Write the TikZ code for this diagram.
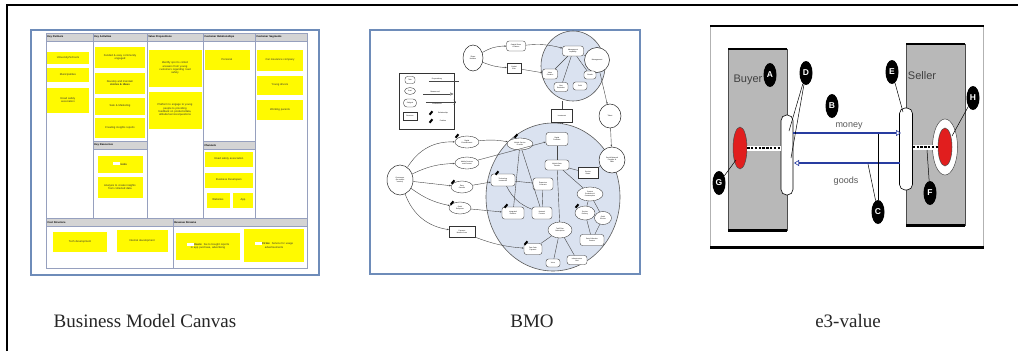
\documentclass[tikz,border=0pt]{standalone}
\usepackage{fontspec}
\setmainfont{Liberation Serif}
\setsansfont{Liberation Sans}
\usetikzlibrary{shapes.geometric,arrows.meta,calc}

\definecolor{panelblue}{RGB}{110,140,185}
\definecolor{gridline}{RGB}{150,160,190}
\definecolor{hdrgray}{RGB}{212,212,212}
\definecolor{sticky}{RGB}{255,250,0}
\definecolor{bubble}{RGB}{218,226,240}
\definecolor{actorgray}{RGB}{184,184,184}
\definecolor{flowblue}{RGB}{40,60,160}
\definecolor{stimred}{RGB}{225,30,30}

\tikzset{
  panelbox/.style={draw=panelblue, line width=1.5pt, fill=white, inner sep=0pt},
  canvasbox/.style={draw=gridline, line width=0.6pt, inner sep=0pt},
  hdr/.style={draw=gridline, line width=0.5pt, fill=hdrgray, anchor=north west,
    inner xsep=1pt, inner ysep=0pt, minimum height=8pt, align=left,
    font=\sffamily\bfseries\fontsize{2.6}{2.9}\selectfont},
  note/.style={fill=sticky, inner sep=1pt, align=center,
    font=\sffamily\fontsize{2.7}{3.3}\selectfont, text=black!80},
  gridrule/.style={draw=gridline, line width=0.5pt},
  caption/.style={font=\fontsize{19}{22}\selectfont, text=black!85},
  % goal-model elements
  bigcirc/.style={ellipse, draw=gray!70!black, line width=0.6pt, fill=bubble, inner sep=0pt},
  tasknode/.style={draw=black!80, line width=0.35pt, fill=white, rounded corners=2.5pt,
    inner sep=0.3pt, align=center, font=\sffamily\fontsize{1.7}{2}\selectfont},
  softnode/.style={ellipse, draw=black!80, line width=0.35pt, fill=white,
    inner sep=0.2pt, align=center, font=\sffamily\fontsize{1.7}{2}\selectfont},
  resnode/.style={draw=black!80, line width=0.35pt, fill=white,
    inner sep=0.3pt, align=center, font=\sffamily\fontsize{1.7}{2}\selectfont},
  actornode/.style={ellipse, draw=black!85, line width=0.5pt, fill=white,
    inner sep=0.2pt, align=center, font=\sffamily\fontsize{1.8}{2.1}\selectfont},
  pin/.style={fill=black, minimum width=2pt, minimum height=4.5pt, inner sep=0pt, rotate=-40},
  link/.style={draw=gray!55!black, line width=0.4pt},
  linkarr/.style={link, -{Stealth[length=2pt,width=1.6pt]}},
  legtext/.style={font=\sffamily\fontsize{1.8}{2}\selectfont, inner sep=0pt},
  % value-model elements
  actorbox/.style={fill=actorgray, draw=gray!60!black, line width=0.4pt, inner sep=0pt},
  iface/.style={draw=black, line width=0.6pt, fill=white, rounded corners=5.5pt, inner sep=0pt},
  stim/.style={ellipse, draw=black!70, line width=0.5pt, fill=stimred, inner sep=0pt},
  ring/.style={ellipse, draw=black!70, line width=0.5pt, fill=white, inner sep=0pt},
  seqbg/.style={draw=white, line width=5pt},
  seqfg/.style={draw=black, line width=2.2pt, dash pattern=on 2.4pt off 1.4pt},
  valline/.style={draw=flowblue, line width=2pt},
  e3lab/.style={font=\sffamily\fontsize{11}{12}\selectfont, text=black!75, inner sep=0pt},
  flowlab/.style={font=\sffamily\fontsize{9}{10}\selectfont, text=black!65, inner sep=0pt},
  lettertag/.style={ellipse, fill=black, text=white, inner sep=0pt,
    minimum width=13pt, minimum height=24pt, font=\sffamily\bfseries\fontsize{8.5}{9}\selectfont},
  tagline/.style={draw=black, line width=0.5pt},
}

\begin{document}
\begin{tikzpicture}[x=1pt, y=-1pt]
\useasboundingbox (0,0) rectangle (1018,351);
\fill[white] (0,0) rectangle (1018,351);

% frame of the figure
\draw[line width=1.4pt] (7,351) -- (7,5) -- (1018,5);

%==================== Business Model Canvas ====================
\node[panelbox, anchor=north west, minimum width=288pt, minimum height=245pt] (bmcpanel) at (30,29) {};
\node[canvasbox, anchor=north west, minimum width=261pt, minimum height=235pt] (canvas) at (46,33) {};

\node[hdr, text width=45pt] (hKP) at (46,33) {Key Partners};
\node[hdr, text width=52pt] (hKA) at (93,33) {Key Activities};
\node[hdr, text width=54pt] (hVP) at (147,33) {Value Propositions};
\node[hdr, text width=50pt] (hCR) at (203,33) {Customer Relationships};
\node[hdr, text width=50pt] (hCS) at (255,33) {Customer Segments};

\draw[gridrule] (hKP.south east) -- (hKP.south east |- 0,218);
\draw[gridrule] (hKA.south east) -- (hKA.south east |- 0,218);
\draw[gridrule] (hVP.south east) -- (hVP.south east |- 0,218);
\draw[gridrule] (hCR.south east) -- (hCR.south east |- 0,218);

\node[hdr, text width=52pt] (hKR) at (93,141) {Key Resources};
\node[hdr, text width=50pt] (hCH) at (203,141) {Channels};
\node[hdr, text width=125pt] (hCO) at (46,218) {Cost Structure};
\node[hdr, text width=132pt] (hRS) at (173,218) {Revenue Streams};
\draw[gridrule] (hRS.south west) -- (hRS.south west |- canvas.south);

% key partners
\node[note, text width=40pt, minimum height=12pt] (kp1) at (68,58) {University/Schools};
\node[note, text width=40pt, minimum height=14pt] (kp2) at (68,75) {Municipalities};
\node[note, text width=40pt, minimum height=25pt] (kp3) at (68,100) {Road safety\\association};
% key activities
\node[note, text width=48pt, minimum height=21pt] (ka1) at (120,57) {Funded \& easy community\\engaged};
\node[note, text width=48pt, minimum height=21pt] (ka2) at (120,83) {Develop and maintain\\\textbf{stories \& ideas}};
\node[note, text width=48pt, minimum height=17pt] (ka3) at (120,106) {Sale \& Marketing};
\node[note, text width=48pt, minimum height=20pt] (ka4) at (120,128) {Creating insights reports};
% key resources
\node[note, text width=43pt, minimum height=17pt] (kr1) at (120,164) {{\color{white}\rule{7pt}{3pt}}\,\textbf{tools}};
\node[note, text width=43pt, minimum height=21pt] (kr2) at (120,187) {Analysis to create insights\\from collected data};
% value propositions
\node[note, text width=51pt, minimum height=37pt] (vp1) at (175,68) {Identify spot to collect\\answers from young\\customers regarding road\\safety};
\node[note, text width=51pt, minimum height=37pt] (vp2) at (175,110) {Platform to engage to young\\people to providing\\feedback on products/data,\\attitude/services/questions};
% customer relationships
\node[note, text width=43pt, minimum height=20pt] (cr1) at (227,60) {Personal};
% channels
\node[note, text width=46pt, minimum height=15pt] (ch1) at (229,159) {Road safety association};
\node[note, text width=46pt, minimum height=15pt] (ch2) at (229,180) {Business Developers};
\node[note, text width=21pt, minimum height=15pt] (ch3) at (218,200) {Websites};
\node[note, text width=18pt, minimum height=15pt] (ch4) at (243,200) {App};
% customer segments
\node[note, text width=44pt, minimum height=21pt] (cs1) at (280,60) {Car insurance company};
\node[note, text width=44pt, minimum height=19pt] (cs2) at (280,85) {Young drivers};
\node[note, text width=44pt, minimum height=20pt] (cs3) at (280,110) {Working parents};
% cost structure
\node[note, text width=52pt, minimum height=20pt] (co1) at (80,242) {Tech development};
\node[note, text width=49pt, minimum height=22pt] (co2) at (142,241) {Internal development};
% revenue streams
\node[note, text width=62pt, minimum height=27pt] (rs1) at (208,246) {{\color{white}\rule{7pt}{3pt}}\,\textbf{Users}: fee to bought reports\\in app purchase, advertising};
\node[note, text width=58pt, minimum height=33pt] (rs2) at (274,245) {{\color{white}\rule{7pt}{3pt}}\,\textbf{Firms}: Service for usage\\advertisements};

\node[caption] (capbmc) at (145,321) {Business Model Canvas};

%==================== BMO goal model ====================
\node[panelbox, anchor=north west, minimum width=270pt, minimum height=244pt] (bmopanel) at (369,29) {};

\node[bigcirc, minimum width=64pt, minimum height=70pt] (upc) at (573,66) {};
\node[bigcirc, minimum width=134pt, minimum height=148pt] (lowc) at (553,197) {};

% legend
\node[resnode, anchor=north west, minimum width=55pt, minimum height=56pt] (legend) at (399,73) {};
\node[tasknode, minimum width=10pt, minimum height=7pt] (lg1) at (410,80) {Task};
\node[softnode, minimum width=11pt, minimum height=7pt] (lg2) at (410,91) {Goal};
\node[tasknode, rounded corners=3.5pt, minimum width=13pt, minimum height=8pt] (lg3) at (410,103) {Softgoal};
\node[resnode, minimum width=14pt, minimum height=8pt] (lg4) at (410,116) {Resource};
\node[legtext] (lt1) at (437,79) {Dependency};
\node[legtext] (lt2) at (435,92) {Means-end};
\node[legtext] (lt3) at (437,104) {Contribution};
\node[legtext] (lt4) at (443,113) {Relationship};
\node[legtext] (lt5) at (443,121) {Position};
\draw[link] (lt1.south west) ++(-3,1.5) coordinate (ld1) -- ++(30,0) coordinate (ld2);
\draw[link, -{Triangle[open,length=3pt,width=3pt]}] (lt2.west) ++(-7,2) coordinate (lm1) -- ++(30,0) coordinate (lm2);
\draw[link, ->] (lt3.north west) ++(-6,-1) coordinate (lc1) -- ++(30,0) coordinate (lc2);
\node[pin] (lp1) at (431,113) {};
\node[pin] (lp2) at (431,121) {};

% upper cluster
\node[actornode, minimum width=20pt, minimum height=26pt] (mass) at (473,58) {Share\\Holders};
\node[tasknode, minimum width=19pt, minimum height=10pt] (t1) at (516,46) {Capital Share\\\& Return};
\node[resnode, minimum width=14pt, minimum height=10pt] (t2) at (514,68) {Capital\\Gain};
\node[actornode, minimum width=25pt, minimum height=25pt] (mgmt) at (597,60) {Management};
\node[tasknode, minimum width=21pt, minimum height=10pt] (u1) at (573,51) {Management\\capability};
\node[tasknode, minimum width=15pt, minimum height=10pt] (u2) at (550,74) {Value\\Creation};
\node[tasknode, minimum width=14pt, minimum height=9pt] (u3) at (561,87) {Cost\\Reduction};
\node[tasknode, minimum width=14pt, minimum height=8pt] (u4) at (580,86) {Profit};
\node[tasknode, minimum width=12pt, minimum height=8pt] (u5) at (590,75) {Growth};
\node[resnode, minimum width=21pt, minimum height=13pt] (inv) at (562,116) {Investment};
\node[actornode, minimum width=22pt, minimum height=24pt] (talent) at (610,116) {Talent};
\node[actornode, minimum width=26pt, minimum height=26pt] (social) at (612,160) {Social Network\\Provider \&\\Offer};

% customers and their services
\node[actornode, minimum width=26pt, minimum height=30pt] (cust) at (400,180) {Customers\\(for mobile\\service)};
\node[softnode, minimum width=24pt, minimum height=12pt] (l1) at (467,142) {Digital\\Entertainment};
\node[softnode, minimum width=24pt, minimum height=12pt] (l2) at (467,163) {Mobile Services\\and Content};
\node[softnode, minimum width=22pt, minimum height=12pt] (l3) at (462,187) {Easy\\Contract};
\node[softnode, minimum width=22pt, minimum height=12pt] (l4) at (460,208) {Quick\\Response};
\node[resnode, minimum width=26pt, minimum height=11pt] (l5) at (462,232) {Payment\\Means of use};
\node[pin] (p1) at (457,136) {};
\node[pin] (p3) at (453,182) {};
\node[pin] (p4) at (452,203) {};

% inside the provider
\node[softnode, minimum width=26pt, minimum height=12pt] (i1) at (520,144) {Mobile Service\\Provider};
\node[tasknode, minimum width=22pt, minimum height=13pt] (i2) at (557,139) {Digital\\Providers};
\node[tasknode, minimum width=24pt, minimum height=10pt] (i3) at (557,165) {Mobile Data\\Transfer};
\node[tasknode, minimum width=24pt, minimum height=12pt] (i4) at (503,180) {Technology\\Investment};
\node[tasknode, minimum width=20pt, minimum height=12pt] (i5) at (543,184) {Expansion\\Contracts};
\node[resnode, minimum width=20pt, minimum height=11pt] (i6) at (588,173) {Service\\Owner};
\node[softnode, minimum width=26pt, minimum height=14pt] (i7) at (590,194) {Content\\Production \&\\Consumption};
\node[tasknode, minimum width=22pt, minimum height=12pt] (i8) at (513,213) {Integrated\\Platform};
\node[tasknode, minimum width=20pt, minimum height=12pt] (i9) at (542,213) {Network\\Process};
\node[softnode, minimum width=24pt, minimum height=16pt] (i10) at (560,230) {Tariff Plan\\Subscription};
\node[softnode, minimum width=20pt, minimum height=14pt] (i11) at (585,213) {Service\\Delivery};
\node[softnode, minimum width=17pt, minimum height=13pt] (i12) at (603,218) {Quick\\Service};
\node[tasknode, minimum width=24pt, minimum height=11pt] (i13) at (592,240) {Data Collection\\Centers};
\node[tasknode, minimum width=18pt, minimum height=11pt] (i14) at (533,249) {Fast Cash\\Payment};
\node[tasknode, minimum width=14pt, minimum height=8pt] (i15) at (553,263) {Voice};
\node[tasknode, minimum width=20pt, minimum height=9pt] (i16) at (577,260) {Infrastructure\\Cost};
\node[pin] (q1) at (516,136) {};
\node[pin] (q4) at (497,173) {};
\node[pin] (q8) at (506,206) {};
\node[pin] (q11) at (577,206) {};
\node[pin] (q14) at (526,243) {};

% links, upper part
\draw[linkarr] (mass) to[bend left=15] (t1);
\draw[linkarr] (t1) to[bend left=10] (u1);
\draw[linkarr] (mass) to[bend right=10] (t2);
\draw[linkarr] (t2) -- (u2);
\draw[link] (u1) -- (u2);
\draw[link] (u1) -- (u3);
\draw[link] (u1) -- (u5);
\draw[link] (mgmt) -- (u1);
\draw[linkarr] (mgmt) -- (talent);
\draw[linkarr] (talent) -- (social);
\draw[link] (inv) -- (inv |- upc.south);
\draw[link] (inv) -- (inv |- lowc.north);
\draw[link] (social) -- (i6);
% links, customers
\draw[linkarr] (cust) to[bend left=30] (l1);
\draw[linkarr] (cust) to[bend left=12] (l2);
\draw[linkarr] (cust) -- (l3);
\draw[linkarr] (cust) to[bend right=12] (l4);
\draw[linkarr] (cust) to[bend right=30] (l5);
\draw[linkarr] (l1) to[bend left=8] (i1);
\draw[linkarr] (l2) -- (i2);
\draw[linkarr] (l3) -- (i4);
\draw[linkarr] (l4) -- (i8);
\draw[linkarr] (l5) to[bend right=8] (i14);
% links, inside the provider
\draw[link] (i1) -- (i8);
\draw[link] (i1) -- (i9);
\draw[link] (i2) -- (i3);
\draw[link] (i3) -- (i10);
\draw[link] (i3) -- (i7);
\draw[link] (i4) -- (i5);
\draw[link] (i4) to[bend right=20] (i9);
\draw[link] (i5) -- (i9);
\draw[link] (i3) -- (i6);
\draw[link] (i7) -- (i11);
\draw[link] (i7) -- (i12);
\draw[link] (i11) -- (i13);
\draw[link] (i12) -- (i13);
\draw[link] (i10) -- (i14);
\draw[link] (i10) -- (i15);
\draw[link] (i10) -- (i16);

\node[caption] (capbmo) at (532,321) {BMO};

%==================== e3-value model ====================
\node[draw=gray!60, line width=0.5pt, fill=white, inner sep=0pt, anchor=north west,
      minimum width=273pt, minimum height=221pt] (e3frame) at (710,26) {};
\draw[line width=2.6pt] (e3frame.north west) -- (e3frame.north east);
\draw[line width=2.6pt] (e3frame.south west) -- (e3frame.south east);

\node[actorbox, anchor=north west, minimum width=59pt, minimum height=181pt] (buyer) at (728,49) {};
\draw[line width=2.4pt] (buyer.north west) -- (buyer.north east);
\draw[line width=2.4pt] (buyer.south west) -- (buyer.south east);
\node[actorbox, anchor=north west, minimum width=59pt, minimum height=181pt] (seller) at (906,44) {};
\draw[line width=2.4pt] (seller.north west) -- (seller.north east);
\draw[line width=2.4pt] (seller.south west) -- (seller.south east);

\node[e3lab] (buyerlab) at (748,80) {Buyer};
\node[e3lab] (sellerlab) at (922,76) {Seller};

\node[iface, minimum width=12pt, minimum height=80pt] (bif) at (787,155) {};
\node[iface, minimum width=13pt, minimum height=82pt] (sif) at (906,149) {};

\node[stim, minimum width=14pt, minimum height=42pt] (bred) at (740,148) {};
\node[ring, minimum width=25pt, minimum height=56pt] (sring) at (945,147) {};
\node[stim, minimum width=14pt, minimum height=38pt] (sred) at (945,147) {};

% dependency paths
\draw[seqbg] (bred.east) -- (bred.east -| bif.west);
\draw[seqfg] (bred.east) -- (bred.east -| bif.west);
\draw[seqbg] (sred.west -| sif.east) -- (sred.west);
\draw[seqfg] (sred.west -| sif.east) -- (sred.west);

% value transfers
\coordinate (mb) at (793,133);
\coordinate (ms) at (901,133);
\coordinate (gs) at (900,163);
\coordinate (gb) at (794,163);
\draw[valline, -{Triangle[open, length=5pt, width=6pt, line width=0.6pt]}] (mb) -- (ms);
\draw[valline, -{Triangle[open, length=5pt, width=6pt, line width=0.6pt]}] (gs) -- (gb);
\node[flowlab] (moneylab) at (849,126) {money};
\node[flowlab] (goodslab) at (846,181) {goods};

% lettered callouts
\node[lettertag] (tA) at (770,75) {A};
\node[lettertag] (tD) at (806,73) {D};
\node[lettertag] (tB) at (832,106) {B};
\node[lettertag] (tE) at (892,72) {E};
\node[lettertag] (tH) at (973,98) {H};
\node[lettertag] (tG) at (719,183) {G};
\node[lettertag] (tC) at (878,212) {C};
\node[lettertag] (tF) at (930,193) {F};

\coordinate (aD1) at (789,131);
\coordinate (aD2) at (791,158);
\coordinate (aE) at (903,112);
\coordinate (aH) at (952,136);
\coordinate (aG) at (736,160);
\coordinate (aF) at (927,150);
\coordinate (aC1) at (878,134);
\coordinate (aC2) at (868,164);
\draw[tagline] (tD) -- (aD1);
\draw[tagline] (tD) -- (aD2);
\draw[tagline] (tE) -- (aE);
\draw[tagline] (tH) -- (aH);
\draw[tagline] (tG) -- (aG);
\draw[tagline] (tF) -- (aF);
\draw[tagline] (tC) -- (aC1);
\draw[tagline] (tC) -- (aC2);

\node[caption] (cape3) at (848,321) {e3-value};
\end{tikzpicture}
\end{document}
